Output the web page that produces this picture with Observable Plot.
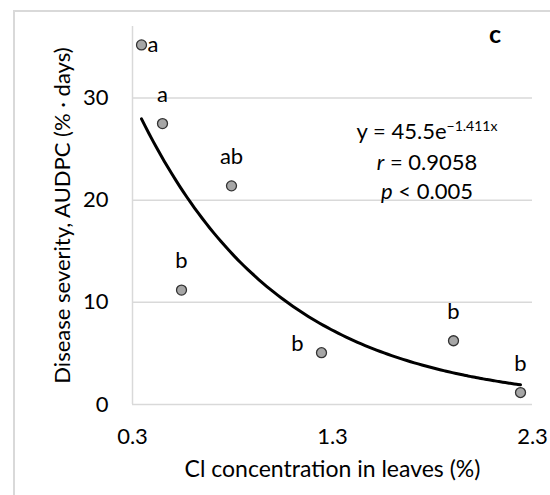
<!DOCTYPE html>
<html><head><meta charset="utf-8">
<script src="https://cdn.jsdelivr.net/npm/d3@7"></script>
<script src="https://cdn.jsdelivr.net/npm/@observablehq/plot@0.6"></script>
<style>
body{margin:0;background:#fff;font-family:Lato,sans-serif;}
#wrap{position:relative;width:550px;height:495px;overflow:hidden;}
#frame{position:absolute;left:13px;top:10px;width:700px;height:700px;border-left:2px solid #d9d9d9;border-top:2px solid #d9d9d9;}
#chart{position:absolute;left:0;top:0;}
</style></head><body>
<div id="wrap"><div id="frame"></div><div id="chart"></div></div>
<script>
const clConc = [0.345, 0.45, 0.795, 0.545, 1.245, 1.905, 2.24];
const audpc = [35.2, 27.5, 21.4, 11.2, 5.07, 6.24, 1.17];
const groups = ["a", "a", "ab", "b", "b", "b", "b"];
const xTicks = [0.3, 1.3, 2.3];
const yTicks = [0, 10, 20, 30];
const fitA = 45.5, fitB = -1.411;
const panelLabel = "c";
const xTitle = "Cl concentration in leaves (%)";
const yTitle = "Disease severity, AUDPC (% · days)";

const pts = clConc.map((x, i) => ({x, y: audpc[i], g: groups[i], i}));
const xmin = d3.min(clConc), xmax = d3.max(clConc);
const curve = d3.range(0, 101).map(k => {
  const x = xmin + (xmax - xmin) * k / 100;
  return {x, y: fitA * Math.exp(fitB * x)};
});

const FS = 22;
const chart = Plot.plot({
  width: 550, height: 495,
  marginLeft: 132, marginRight: 18, marginTop: 26, marginBottom: 91,
  style: {fontFamily: "Lato, sans-serif", fontSize: FS + "px", color: "#000", background: "transparent"},
  x: {domain: [0.3, 2.3]},
  y: {domain: [0, 37]},
  marks: [
    Plot.gridY(yTicks.filter(d => d > 0), {stroke: "#d9d9d9", strokeOpacity: 1, strokeWidth: 1.5}),
    Plot.ruleY([0], {stroke: "#d9d9d9", strokeWidth: 1.5}),
    Plot.ruleX([0.3], {stroke: "#d9d9d9", strokeWidth: 1.5}),
    Plot.axisX({ticks: xTicks, tickSize: 0, tickPadding: 24, label: null, tickFormat: d => d.toFixed(1), fontSize: FS}),
    Plot.axisY({ticks: yTicks, tickSize: 0, tickPadding: 24, label: null, fontSize: FS}),
    Plot.text([yTitle], {frameAnchor: "left", textAnchor: "middle", rotate: -90, dx: -70, fontSize: FS, fill: "#000"}),
    Plot.text([xTitle], {frameAnchor: "bottom", dy: 72, fontSize: 23, fill: "#000"}),
    Plot.line(curve, {x: "x", y: "y", stroke: "#000", strokeWidth: 3, curve: "natural"}),
    Plot.dot(pts, {x: "x", y: "y", r: 5, fill: "#a6a6a6", stroke: "#333", strokeWidth: 1.3}),
    Plot.text(pts.filter(d => d.i !== 0 && d.i !== 4), {x: "x", y: "y", text: "g", dy: -29, fontSize: FS, fill: "#000"}),
    Plot.text(pts.filter(d => d.i === 0), {x: "x", y: "y", text: "g", dx: 6, textAnchor: "start", fontSize: FS, fill: "#000"}),
    Plot.text(pts.filter(d => d.i === 4), {x: "x", y: "y", text: "g", dx: -24, dy: -9, fontSize: FS, fill: "#000"})
  ]
});
document.getElementById("chart").appendChild(chart);

const sx = chart.scale("x"), sy = chart.scale("y");
const svg = d3.select(chart);
const ann = svg.append("g").attr("font-family", "Lato, sans-serif").attr("font-size", FS).attr("fill", "#000");
ann.append("text").attr("x", sx.apply(2.115)).attr("y", sy.apply(35.3)).attr("text-anchor", "middle").attr("font-weight", "bold").attr("font-size", 25).text(panelLabel);
const eq = ann.append("text").attr("x", sx.apply(1.775)).attr("y", sy.apply(25.9)).attr("text-anchor", "middle");
eq.append("tspan").text("y = " + fitA + "e");
eq.append("tspan").attr("font-size", 14).attr("dy", -8).text("\u2212" + Math.abs(fitB) + "x");
const rl = ann.append("text").attr("x", sx.apply(1.775)).attr("y", sy.apply(22.9)).attr("text-anchor", "middle");
rl.append("tspan").attr("font-style", "italic").text("r");
rl.append("tspan").text(" = 0.9058");
const pl = ann.append("text").attr("x", sx.apply(1.775)).attr("y", sy.apply(20.1)).attr("text-anchor", "middle");
pl.append("tspan").attr("font-style", "italic").text("p");
pl.append("tspan").text(" < 0.005");
</script>
</body></html>
